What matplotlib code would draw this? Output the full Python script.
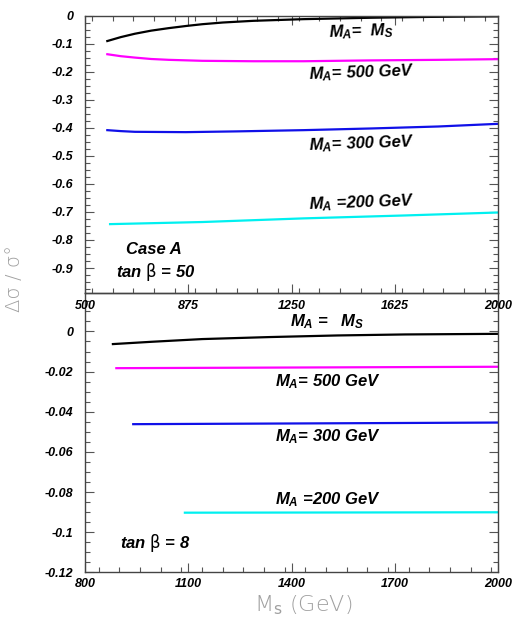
import matplotlib
matplotlib.use('Agg')
import matplotlib.pyplot as plt
from matplotlib.ticker import FixedLocator, MultipleLocator, FuncFormatter

plt.rcParams['font.family'] = ['Liberation Sans', 'DejaVu Sans']
plt.rcParams['font.weight'] = 'bold'
plt.rcParams['font.style'] = 'italic'
plt.rcParams['axes.unicode_minus'] = False
plt.rcParams['mathtext.fontset'] = 'custom'
plt.rcParams['mathtext.it'] = 'Liberation Sans:style=italic:weight=bold'
plt.rcParams['mathtext.rm'] = 'Liberation Sans:style=italic:weight=bold'
plt.rcParams['mathtext.bf'] = 'Liberation Sans:style=italic:weight=bold'
plt.rcParams['mathtext.sf'] = 'DejaVu Sans:style=normal:weight=normal'

# ---------------- data: top panel (Case A, tan beta = 50) ----------------
top_x_ms = [581, 630, 681, 740, 804, 870, 926, 1000, 1110, 1293, 1538, 1750, 2000]
top_y_ms = [-0.091, -0.077, -0.065, -0.054, -0.045, -0.037, -0.031, -0.025, -0.019,
            -0.013, -0.008, -0.005, -0.003]
top_x_500 = [581, 630, 681, 740, 804, 926, 1110, 1293, 1538, 1783, 2000]
top_y_500 = [-0.138, -0.145, -0.150, -0.155, -0.158, -0.1615, -0.163, -0.163, -0.160,
             -0.158, -0.1556]
top_x_300 = [581, 630, 681, 865, 1049, 1293, 1538, 1783, 2000]
top_y_300 = [-0.4086, -0.412, -0.4145, -0.4157, -0.413, -0.4086, -0.4026, -0.3955, -0.386]
top_x_200 = [591, 926, 1293, 1661, 2000]
top_y_200 = [-0.7435, -0.736, -0.723, -0.7126, -0.702]

# ---------------- data: bottom panel (tan beta = 8) ----------------
bot_x_ms = [881, 994, 1141, 1337, 1533, 1729, 2000]
bot_y_ms = [-0.0063, -0.00515, -0.0038, -0.0028, -0.0020, -0.0015, -0.0012]
bot_x_500 = [891, 2000]
bot_y_500 = [-0.0183, -0.0176]
bot_x_300 = [940, 2000]
bot_y_300 = [-0.0462, -0.0454]
bot_x_200 = [1090, 2000]
bot_y_200 = [-0.0903, -0.0901]

top_xticks = [500, 875, 1250, 1625, 2000]
top_yticks = [0, -0.1, -0.2, -0.3, -0.4, -0.5, -0.6, -0.7, -0.8, -0.9]
bot_xticks = [800, 1100, 1400, 1700, 2000]
bot_yticks = [0, -0.02, -0.04, -0.06, -0.08, -0.1, -0.12]

labels = [r"$M_A$=  $M_S$", r"$M_A$= 500 GeV", r"$M_A$= 300 GeV", r"$M_A$ =200 GeV"]
colors = ['black', '#ff00ff', '#1010e8', '#00f0f0']

W, H = 529, 639
fig = plt.figure(figsize=(W / 100, H / 100), dpi=100)
L = 85 / W
Wd = 413.3 / W
ax1 = fig.add_axes([L, 1 - 293.3 / H, Wd, (293.3 - 15.5) / H])
ax2 = fig.add_axes([L, 1 - 572.3 / H, Wd, (572.3 - 293.3) / H])

fmt = FuncFormatter(lambda v, p: '0' if abs(v) < 1e-9 else ('%g' % v))

def style(ax, xticks, yticks, xminor, yminor, top):
    ax.xaxis.set_major_locator(FixedLocator(xticks))
    ax.yaxis.set_major_locator(FixedLocator(yticks))
    ax.xaxis.set_minor_locator(MultipleLocator(xminor))
    ax.yaxis.set_minor_locator(MultipleLocator(yminor))
    ax.yaxis.set_major_formatter(fmt)
    ax.tick_params(which='both', direction='in', right=True, top=top,
                   color='#555555', labelsize=9, width=0.8)
    ax.tick_params(which='major', length=6.5)
    ax.tick_params(which='minor', length=3.8)
    ax.tick_params(axis='y', pad=8.5)
    for s in ax.spines.values():
        s.set_color('#444444')
        s.set_linewidth(1.0)

# top panel
for xs, ys, c in zip([top_x_ms, top_x_500, top_x_300, top_x_200],
                     [top_y_ms, top_y_500, top_y_300, top_y_200], colors):
    ax1.plot(xs, ys, color=c, lw=1.6)
ax1.set_xlim(500, 2000)
ax1.set_ylim(-0.99, 0)
style(ax1, top_xticks, top_yticks, 75, 0.025, True)
ax1.tick_params(axis='x', pad=4.5)
top_lab_y = [-0.057, -0.2055, -0.457, -0.666]
for t, y in zip(labels, top_lab_y):
    ax1.text(1504, y, t, ha='center', va='center', fontsize=12, rotation=2)
ax1.text(751, -0.8325, 'Case A', ha='center', va='center', fontsize=12)
ax1.text(755, -0.9157, r'tan $\mathsf{\beta}$ = 50', ha='center', va='center', fontsize=12)

# bottom panel
for xs, ys, c in zip([bot_x_ms, bot_x_500, bot_x_300, bot_x_200],
                     [bot_y_ms, bot_y_500, bot_y_300, bot_y_200], colors):
    ax2.plot(xs, ys, color=c, lw=1.6)
ax2.set_xlim(800, 2000)
ax2.set_ylim(-0.12, 0.019)
style(ax2, bot_xticks, bot_yticks, 60, 0.005, False)
ax2.tick_params(axis='x', pad=4)
bot_labels = [r"$M_A$ =   $M_S$", r"$M_A$= 500 GeV", r"$M_A$= 300 GeV", r"$M_A$ =200 GeV"]
bot_lab_y = [0.0047, -0.0249, -0.0524, -0.0836]
for t, y in zip(bot_labels, bot_lab_y):
    ax2.text(1504, y, t, ha='center', va='center', fontsize=12)
ax2.text(1004, -0.1055, r'tan $\mathsf{\beta}$ = 8', ha='center', va='center', fontsize=12)
ax1.set_zorder(3)
ax1.patch.set_alpha(0)

fig.text(0.028, 1 - 278 / H, 'Δσ / σ°', rotation=90, ha='center', va='center',
         fontsize=14, color='#a0a0a0', family='DejaVu Sans', weight='light', style='normal')
fig.text(303 / W, 1 - 605 / H, r'M$_{\mathsf{s}}$ (GeV)', ha='center', va='center',
         fontsize=16, color='#a0a0a0', family='DejaVu Sans', weight='light', style='normal')

fig.savefig('out.png', dpi=100, facecolor='white')
